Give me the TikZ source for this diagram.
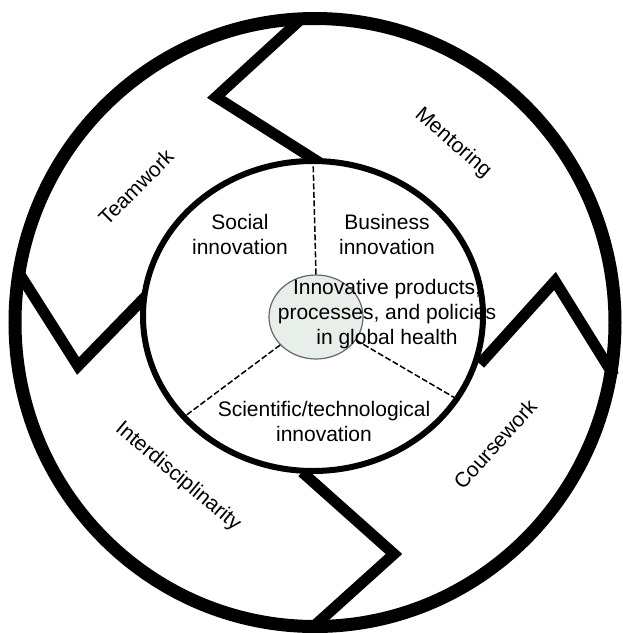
\documentclass[tikz,border=0pt]{standalone}
\usepackage{fontspec}
\setmainfont{Liberation Sans}
\usetikzlibrary{shapes.geometric}

\begin{document}
\begin{tikzpicture}[x=1pt,y=-1pt]
	\tikzstyle{ring}=[draw=black,line width=13pt]
	\tikzstyle{zig}=[draw=black,line width=11pt,miter limit=20]
	\tikzstyle{spoke}=[line width=1.5pt,dash pattern=on 6pt off 2.5pt]
	\tikzstyle{lbl}=[font=\fontsize{21}{25}\selectfont,align=center,inner sep=0pt]
	\definecolor{hubfill}{RGB}{232,238,234}
	\useasboundingbox (0,0) rectangle (623,633);
	\draw[ring] (315,322.5) ellipse [x radius=300, y radius=304];
	% chevrons between the outer parts
	\draw[zig] (299,21) -- (216,97) -- (320,163);
	\draw[zig] (480,364) -- (555,281) -- (614,376);
	\draw[zig] (19,273) -- (78,366) -- (150,292);
	\draw[zig] (302,472) -- (394,554) -- (313,627);
	\node[draw,ellipse,line width=6pt,fill=white,minimum width=340pt,minimum height=310pt,inner sep=0pt] (inner) at (313,316) {};
	\node[ellipse,draw=black!60,fill=hubfill,line width=1.2pt,minimum width=94pt,minimum height=84pt,inner sep=0pt] (hub) at (316,317) {};
	\draw[spoke] (hub.90) -- (inner.90);
	\draw[spoke] (hub.218) -- (inner.218);
	\draw[spoke] (hub.330) -- (inner.330);
	\node[lbl] (social) at (240,234) {Social\\innovation};
	\node[lbl] (business) at (387,234) {Business\\innovation};
	\node[lbl] (goal) at (387,314) {Innovative products,\\processes, and policies\\in global health};
	\node[lbl] (science) at (324,421) {Scientific/technological\\innovation};
	\node[lbl,rotate=45] (team) at (136,187) {Teamwork};
	\node[lbl,rotate=-41] (mentor) at (453,143) {Mentoring};
	\node[lbl,rotate=48] (course) at (495,444) {Coursework};
	\node[lbl,rotate=-40] (inter) at (178,477) {Interdisciplinarity};
\end{tikzpicture}
\end{document}
